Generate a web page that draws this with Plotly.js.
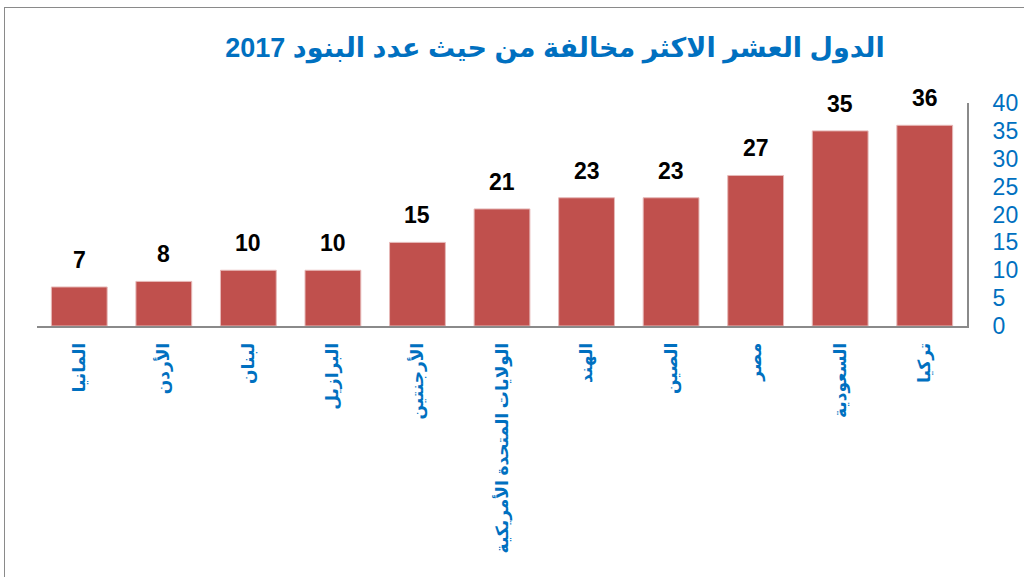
<!DOCTYPE html>
<html>
<head>
<meta charset="utf-8">
<script src="https://cdn.plot.ly/plotly-3.0.1.min.js"></script>
<style>
  html, body { margin: 0; padding: 0; background: #fff; overflow: hidden; }
  #chart { width: 1024px; height: 577px; }
  #frame { position: absolute; left: 4px; top: 7px; width: 1100px; height: 700px;
           border-top: 1px solid #8a8a8a; border-left: 1px solid #8a8a8a; pointer-events: none; }
</style>
</head>
<body>
<div id="chart"></div>
<div id="frame"></div>
<script>
const titleText = "الدول العشر الاكثر مخالفة من حيث عدد البنود 2017";
const countries = ["المانيا", "الأردن", "لبنان", "البرازيل", "الأرجنتين",
  "الولايات المتحدة الأمريكية", "الهند", "الصين", "مصر", "السعودية", "تركيا"];
const itemCounts = [7, 8, 10, 10, 15, 21, 23, 23, 27, 35, 36];
const yTicks = [0, 5, 10, 15, 20, 25, 30, 35, 40];

const blue = "#0070C0";
const arabicFont = "Liberation Sans, DejaVu Sans, sans-serif";

const trace = {
  type: "bar",
  x: countries,
  y: itemCounts,
  marker: { color: "#C0504D", line: { color: "#E6B9B8", width: 1 } },
  hoverinfo: "x+y"
};

const annotations = countries.map((c, i) => ({
  x: c, y: itemCounts[i], xref: "x", yref: "y",
  text: "<b>" + String(itemCounts[i]) + "</b>", showarrow: false,
  yanchor: "middle", yshift: 27,
  font: { family: "Liberation Sans, Arial, sans-serif", size: 23, color: "#000" }
}));

const layout = {
  width: 1024, height: 577,
  margin: { l: 37, r: 57, t: 103, b: 251, pad: 0 },
  paper_bgcolor: "#fff", plot_bgcolor: "#fff",
  showlegend: false,
  bargap: 0.34,
  title: {
    text: "<b>" + titleText + "</b>",
    x: 0.542, xanchor: "center", y: 0.917, yanchor: "middle",
    font: { family: arabicFont, size: 27, color: blue }
  },
  xaxis: {
    type: "category",
    tickangle: -90,
    tickfont: { family: arabicFont, size: 17, color: blue, weight: "bold" },
    showline: true, linecolor: "#8a8a8a", linewidth: 2,
    showgrid: false, zeroline: false,
    ticks: "outside", ticklen: 8, tickcolor: "rgba(0,0,0,0)",
    fixedrange: true
  },
  yaxis: {
    side: "right",
    range: [0, 40],
    tickvals: yTicks,
    ticktext: yTicks.map(String),
    tickfont: { family: "Liberation Sans, Arial, sans-serif", size: 23, color: blue },
    showline: true, linecolor: "#8a8a8a", linewidth: 2,
    showgrid: false, zeroline: false,
    ticks: "outside", ticklen: 19, tickcolor: "rgba(0,0,0,0)",
    fixedrange: true
  },
  annotations: annotations
};

Plotly.newPlot("chart", [trace], layout, { displayModeBar: false, staticPlot: true });
</script>
</body>
</html>
